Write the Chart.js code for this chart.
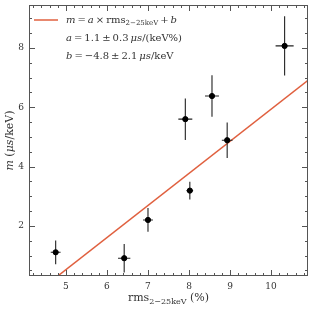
<!DOCTYPE html>
<html>
<head>
<meta charset="utf-8">
<script src="https://cdn.jsdelivr.net/npm/chart.js@4"></script>
<style>
  html, body { margin: 0; padding: 0; background: #fff; }
  #wrap { width: 313px; height: 309px; }
</style>
</head>
<body>
<div id="wrap"><canvas id="chart" width="313" height="309"></canvas></div>
<script>
// values
var rmsX = [4.75, 6.42, 7.0, 8.02, 7.91, 8.56, 8.93, 10.33];
var rmsErr = [0.12, 0.15, 0.12, 0.08, 0.17, 0.17, 0.13, 0.22];
var mY = [1.11, 0.91, 2.2, 3.19, 5.6, 6.38, 4.89, 8.07];
var mErr = [0.4, 0.48, 0.4, 0.3, 0.7, 0.7, 0.6, 1.0];
var fitX = [4.1, 10.9];
var fitY = [-0.45, 6.91];
var xTicks = [5, 6, 7, 8, 9, 10];
var yTicks = [2, 4, 6, 8];

var X_MIN = 4.1, X_MAX = 10.9, Y_MIN = 0.31, Y_MAX = 9.45;
var FONT = '"DejaVu Serif", "Liberation Serif", serif';
var AXIS_COL = '#555';
var FIT_COL = '#e0603f';
var TS = '\u2009'; // thin space

// error bar segments, separated by null points
var errSegs = [];
for (var i = 0; i < rmsX.length; i++) {
    errSegs.push({ x: rmsX[i] - rmsErr[i], y: mY[i] });
    errSegs.push({ x: rmsX[i] + rmsErr[i], y: mY[i] });
    errSegs.push({ x: rmsX[i], y: null });
    errSegs.push({ x: rmsX[i], y: mY[i] - mErr[i] });
    errSegs.push({ x: rmsX[i], y: mY[i] + mErr[i] });
    errSegs.push({ x: rmsX[i], y: null });
}
var pts = rmsX.map(function (x, i) { return { x: x, y: mY[i] }; });
var fitPts = fitX.map(function (x, i) { return { x: x, y: fitY[i] }; });

// draws the frame, inward ticks, tick labels, axis titles and the legend box
var decor = {
    id: 'decor',
    afterDraw: function (chart) {
        var ctx = chart.ctx;
        var a = chart.chartArea;
        var xs = chart.scales.x, ys = chart.scales.y;
        ctx.save();
        ctx.strokeStyle = AXIS_COL;
        ctx.lineWidth = 1;
        ctx.strokeRect(a.left + 0.5, a.top + 0.5, a.right - a.left - 1, a.bottom - a.top - 1);

        ctx.beginPath();
        // x ticks, major every 1, minor every 0.2
        for (var k = 21; k <= 54; k++) {
            var v = k / 5;
            if (v < X_MIN || v > X_MAX) continue;
            var px = Math.round(xs.getPixelForValue(v)) + 0.5;
            var len = (k % 5 === 0) ? 6 : 3;
            ctx.moveTo(px, a.bottom); ctx.lineTo(px, a.bottom - len);
            ctx.moveTo(px, a.top); ctx.lineTo(px, a.top + len);
        }
        // y ticks, major every 2, minor every 0.5
        for (var k = 1; k <= 18; k++) {
            var v = k / 2;
            if (v < Y_MIN || v > Y_MAX) continue;
            var py = Math.round(ys.getPixelForValue(v)) + 0.5;
            var len = (k % 4 === 0) ? 6 : 3;
            ctx.moveTo(a.left, py); ctx.lineTo(a.left + len, py);
            ctx.moveTo(a.right, py); ctx.lineTo(a.right - len, py);
        }
        ctx.stroke();

        ctx.fillStyle = '#333';
        ctx.font = '9px ' + FONT;
        ctx.textAlign = 'center';
        ctx.textBaseline = 'top';
        xTicks.forEach(function (t) {
            ctx.fillText(String(t), xs.getPixelForValue(t), a.bottom + 6);
        });
        ctx.textAlign = 'right';
        ctx.textBaseline = 'middle';
        yTicks.forEach(function (t) {
            ctx.fillText(String(t), a.left - 5, ys.getPixelForValue(t));
        });

        function run(list, x, y) {
            list.forEach(function (p) {
                ctx.font = p[1] + FONT;
                ctx.fillText(p[0], x, y + (p[2] || 0));
                x += ctx.measureText(p[0]).width;
            });
        }
        function runWidth(list) {
            var w = 0;
            list.forEach(function (p) { ctx.font = p[1] + FONT; w += ctx.measureText(p[0]).width; });
            return w;
        }

        // x title: rms_{2-25keV} (%)
        ctx.textAlign = 'left';
        ctx.textBaseline = 'alphabetic';
        var xt = [['rms', '11px '], ['2\u221225keV', '8px ', 3], [' (%)', '11px ']];
        run(xt, (a.left + a.right) / 2 - runWidth(xt) / 2, 301);

        // y title: m (μs/keV)
        ctx.save();
        ctx.translate(13, (a.top + a.bottom) / 2);
        ctx.rotate(-Math.PI / 2);
        var yt = [['m', 'italic 11px '], [' (', '11px '], ['\u03bcs', 'italic 11px '], ['/keV)', '11px ']];
        run(yt, -runWidth(yt) / 2, 0);
        ctx.restore();

        // legend
        ctx.strokeStyle = FIT_COL;
        ctx.lineWidth = 1.5;
        ctx.beginPath();
        ctx.moveTo(34, 20); ctx.lineTo(58, 20);
        ctx.stroke();
        ctx.fillStyle = '#333';
        ctx.textBaseline = 'middle';
        run([['m', 'italic 10px '], [TS + '=' + TS, '10px '], ['a', 'italic 10px '], [TS + '\u00d7' + TS + 'rms', '10px '],
             ['2\u221225keV', '7px ', 3], [TS + '+' + TS, '10px '], ['b', 'italic 10px ']], 66, 20);
        run([['a', 'italic 10px '], [TS + '=' + TS + '1.1' + TS + '\u00b1' + TS + '0.3' + TS, '10px '], ['\u03bcs', 'italic 10px '],
             ['/(keV%)', '10px ']], 66, 38);
        run([['b', 'italic 10px '], [TS + '=' + TS + '\u22124.8' + TS + '\u00b1' + TS + '2.1' + TS, '10px '], ['\u03bcs', 'italic 10px '],
             ['/keV', '10px ']], 66, 56);
        ctx.restore();
    }
};

var chart = new Chart(document.getElementById('chart').getContext('2d'), {
    type: 'scatter',
    data: {
        datasets: [
            {
                label: 'fit',
                data: fitPts,
                showLine: true,
                borderColor: FIT_COL,
                borderWidth: 1.5,
                pointRadius: 0,
                order: 3
            },
            {
                label: 'err',
                data: errSegs,
                showLine: true,
                spanGaps: false,
                borderColor: '#222',
                borderWidth: 1.1,
                pointRadius: 0,
                order: 2
            },
            {
                label: 'data',
                data: pts,
                backgroundColor: '#000',
                borderColor: '#000',
                pointRadius: 2.6,
                order: 1
            }
        ]
    },
    options: {
        responsive: false,
        animation: false,
        layout: { padding: { left: 29, right: 5, top: 5, bottom: 33 } },
        plugins: { legend: { display: false }, tooltip: { enabled: false } },
        scales: {
            x: { type: 'linear', min: X_MIN, max: X_MAX, display: false },
            y: { type: 'linear', min: Y_MIN, max: Y_MAX, display: false }
        }
    },
    plugins: [decor]
});
</script>
</body>
</html>
